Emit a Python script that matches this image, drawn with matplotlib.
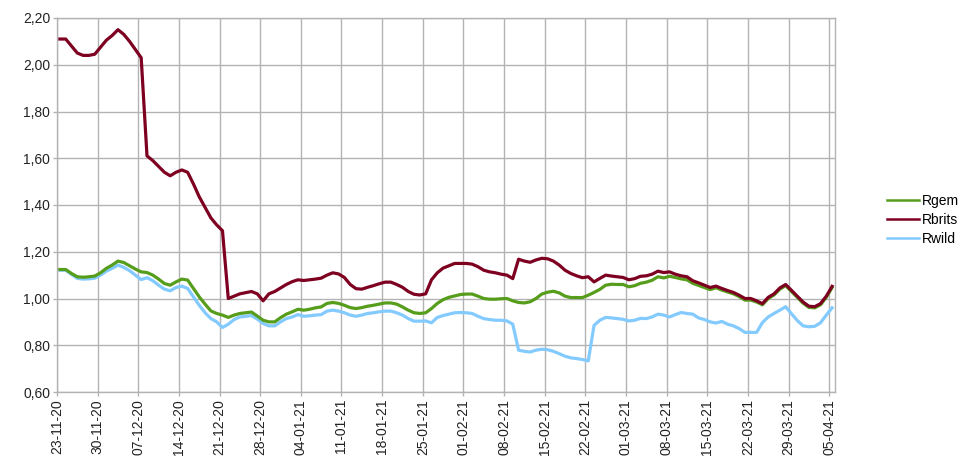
import matplotlib
matplotlib.use('Agg')
import matplotlib.pyplot as plt
import numpy as np
from matplotlib.ticker import FuncFormatter

plt.rcParams['font.family'] = ['Liberation Sans', 'DejaVu Sans']

# daily values 23-11-20 .. 05-04-21
rbrits = [2.11, 2.11, 2.08, 2.05, 2.04, 2.04, 2.045, 2.075, 2.105, 2.125,
          2.15, 2.13, 2.10, 2.065, 2.03, 1.61, 1.59, 1.565, 1.54, 1.525,
          1.54, 1.55, 1.54, 1.49, 1.435, 1.39, 1.345, 1.315, 1.29, 1.00,
          1.01, 1.02, 1.025, 1.03, 1.02, 0.99, 1.02, 1.03, 1.045, 1.06,
          1.072, 1.08, 1.077, 1.08, 1.083, 1.087, 1.10, 1.11, 1.105, 1.09,
          1.06, 1.042, 1.04, 1.048, 1.055, 1.063, 1.07, 1.07, 1.06, 1.048,
          1.03, 1.018, 1.015, 1.02, 1.08, 1.11, 1.13, 1.14, 1.15, 1.15,
          1.15, 1.147, 1.136, 1.121, 1.114, 1.11, 1.104, 1.10, 1.085, 1.168,
          1.16, 1.155, 1.165, 1.172, 1.17, 1.16, 1.143, 1.121, 1.107, 1.097,
          1.089, 1.093, 1.071, 1.086, 1.10, 1.096, 1.093, 1.09, 1.08, 1.085,
          1.095, 1.097, 1.104, 1.117, 1.111, 1.114, 1.104, 1.097, 1.093, 1.076,
          1.067, 1.057, 1.047, 1.053, 1.043, 1.034, 1.026, 1.014, 1.00, 1.00,
          0.99, 0.978, 1.005, 1.02, 1.045, 1.06, 1.035, 1.01, 0.985, 0.967,
          0.965, 0.978, 1.01, 1.052]

rgem = [1.124, 1.124, 1.107, 1.093, 1.091, 1.093, 1.096, 1.11, 1.129, 1.143,
        1.16, 1.154, 1.14, 1.126, 1.114, 1.111, 1.10, 1.083, 1.064, 1.057,
        1.071, 1.083, 1.079, 1.043, 1.007, 0.976, 0.947, 0.936, 0.929, 0.919,
        0.929, 0.936, 0.939, 0.942, 0.925, 0.907, 0.90, 0.90, 0.918, 0.933,
        0.943, 0.954, 0.95, 0.954, 0.96, 0.964, 0.979, 0.983, 0.979, 0.971,
        0.961, 0.957, 0.961, 0.967, 0.971, 0.976, 0.981, 0.981, 0.976, 0.964,
        0.95, 0.939, 0.936, 0.939, 0.957, 0.979, 0.995, 1.005, 1.011, 1.017,
        1.019, 1.019, 1.01, 1.00, 0.997, 0.997, 0.999, 1.00, 0.99, 0.983,
        0.981, 0.986, 1.00, 1.019, 1.027, 1.031, 1.024, 1.01, 1.004, 1.004,
        1.004, 1.014, 1.026, 1.039, 1.057, 1.061, 1.06, 1.06, 1.05, 1.055,
        1.065, 1.07, 1.078, 1.093, 1.088, 1.095, 1.09, 1.084, 1.08, 1.065,
        1.056, 1.047, 1.038, 1.046, 1.036, 1.028, 1.02, 1.008, 0.993, 0.993,
        0.985, 0.973, 1.00, 1.015, 1.04, 1.055, 1.03, 1.005, 0.98, 0.962,
        0.96, 0.973, 1.005, 1.047]

rwild = [1.121, 1.121, 1.103, 1.086, 1.083, 1.084, 1.087, 1.10, 1.117, 1.129,
         1.143, 1.133, 1.119, 1.10, 1.081, 1.089, 1.076, 1.057, 1.04, 1.033,
         1.047, 1.053, 1.043, 1.007, 0.971, 0.939, 0.914, 0.90, 0.876, 0.89,
         0.91, 0.921, 0.924, 0.927, 0.912, 0.893, 0.883, 0.883, 0.90, 0.914,
         0.921, 0.931, 0.924, 0.926, 0.929, 0.931, 0.946, 0.95, 0.946, 0.939,
         0.929, 0.924, 0.929, 0.936, 0.939, 0.943, 0.946, 0.946, 0.939, 0.929,
         0.914, 0.903, 0.903, 0.904, 0.896, 0.919, 0.927, 0.933, 0.939, 0.94,
         0.939, 0.936, 0.924, 0.914, 0.91, 0.907, 0.907, 0.904, 0.89, 0.779,
         0.774, 0.771, 0.779, 0.783, 0.781, 0.774, 0.764, 0.753, 0.746, 0.743,
         0.739, 0.733, 0.885, 0.907, 0.919, 0.917, 0.914, 0.911, 0.904, 0.907,
         0.915, 0.914, 0.921, 0.933, 0.929, 0.921, 0.931, 0.94, 0.936, 0.933,
         0.917, 0.91, 0.90, 0.895, 0.902, 0.89, 0.883, 0.871, 0.855, 0.855,
         0.855, 0.897, 0.921, 0.936, 0.95, 0.965, 0.935, 0.906, 0.883, 0.879,
         0.881, 0.896, 0.929, 0.96]

week_labels = ['23-11-20', '30-11-20', '07-12-20', '14-12-20', '21-12-20',
               '28-12-20', '04-01-21', '11-01-21', '18-01-21', '25-01-21',
               '01-02-21', '08-02-21', '15-02-21', '22-02-21', '01-03-21',
               '08-03-21', '15-03-21', '22-03-21', '29-03-21', '05-04-21']

fig = plt.figure(figsize=(9.69, 4.72), dpi=100)
ax = fig.add_axes([57 / 969, 80 / 472, 778 / 969, 374 / 472])

x = np.arange(len(rgem)) + 0.5
ax.plot(x, rgem, color='#579d1c', lw=2.3, label='Rgem', zorder=3)
ax.plot(x, rbrits, color='#7e0021', lw=2.3, label='Rbrits', zorder=4)
ax.plot(x, rwild, color='#83caff', lw=2.3, label='Rwild', zorder=2)

ax.set_xlim(0, len(rgem))
ax.set_ylim(0.6, 2.2)
ax.set_yticks(np.arange(0.6, 2.21, 0.2))
ax.yaxis.set_major_formatter(FuncFormatter(lambda v, p: f'{v:.2f}'.replace('.', ',')))
ax.set_xticks(np.arange(len(week_labels)) * 7)
ax.set_xticklabels(week_labels, rotation=90)

ax.grid(True, color='#b3b3b3', lw=1.0)
ax.set_axisbelow(True)
for s in ax.spines.values():
    s.set_color('#b3b3b3')
    s.set_linewidth(1.0)
ax.tick_params(colors='#b3b3b3', labelcolor='#222222', labelsize=10,
               length=3, width=1.0, pad=2)

leg = fig.legend(loc='center left', bbox_to_anchor=(880 / 969, 1 - 220 / 472),
                 frameon=False, fontsize=10, handlelength=2.3, handletextpad=0.2,
                 labelspacing=0.35, borderpad=0)
for line in leg.get_lines():
    line.set_linewidth(1.8)

fig.savefig('out.png', dpi=100)
